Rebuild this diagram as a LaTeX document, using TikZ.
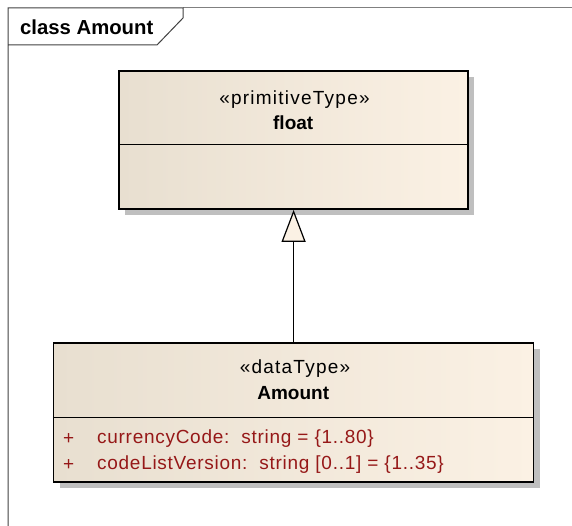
\documentclass[tikz,border=0pt]{standalone}
\usepackage{fontspec}
\setmainfont{Liberation Sans}
\usetikzlibrary{arrows.meta,shadows}
\definecolor{boxleft}{RGB}{232,223,208}
\definecolor{boxright}{RGB}{251,241,228}
\definecolor{cream}{RGB}{251,241,228}
\definecolor{attrred}{RGB}{150,24,24}
\definecolor{framegray}{RGB}{128,128,128}
\tikzset{
  classbox/.style={draw=black, line width=1.4pt, left color=boxleft, right color=boxright,
    drop shadow={shadow xshift=6pt, shadow yshift=-6pt, fill=black!25, opacity=1},
    inner sep=0pt},
  divider/.style={draw=black, line width=1pt},
  stereo/.style={font=\fontsize{19}{22}\selectfont\addfontfeature{LetterSpace=6.5}, inner sep=0pt},
  cname/.style={font=\fontsize{19}{22}\selectfont\bfseries, inner sep=0pt},
  attr/.style={font=\fontsize{19}{22}\selectfont\addfontfeature{LetterSpace=3.8}, text=attrred, inner sep=0pt, anchor=west},
  framelinegray/.style={draw=framegray, line width=1pt},
  framelinedark/.style={draw=black!75, line width=1pt},
  inherit/.style={draw=black, line width=1.2pt,
    -{Triangle[open, length=32pt, width=24pt, fill=cream, line width=1.2pt]}}
}
\begin{document}
\begin{tikzpicture}[x=1pt, y=-1pt]
\useasboundingbox (0,0) rectangle (572,526);
% frame
\coordinate (ftl) at (8,8);
\coordinate (ftr) at (572,8);
\coordinate (fbl) at (8,526);
\draw[framelinegray] (183,8) -- (ftr);
\draw[framelinedark] (fbl) -- (ftl) -- (183,8) -- (183,18) -- (157,45) -- (8,45);
\node[font=\fontsize{20.3}{22}\selectfont\bfseries, anchor=west, inner sep=0pt] (ftitle) at (20,27) {class Amount};
% float box
\node[classbox, minimum width=349pt, minimum height=138pt] (floatbox) at (293.6,140.2) {};
\draw[divider] (floatbox.west |- 0,145) -- (floatbox.east |- 0,145);
\node[stereo] (fst) at (294.5,100) {«primitiveType»};
\node[cname] (fname) at (293.2,123) {float};
% amount box
\node[classbox, minimum width=480pt, minimum height=139pt] (amount) at (293.6,412.5) {};
\draw[divider] (amount.west |- 0,417) -- (amount.east |- 0,417);
\node[stereo] (ast) at (295,369) {«dataType»};
\node[cname] (aname) at (293.2,393) {Amount};
\node[attr] (p1) at (63,439) {+};
\node[attr] (a1) at (97,439) {currencyCode:\ \ string = \{1..80\}};
\node[attr] (p2) at (63,465) {+};
\node[attr] (a2) at (97,465) {codeListVersion:\ \ string [0..1] = \{1..35\}};
% generalization
\draw[inherit] (amount.north) -- (floatbox.south);
\end{tikzpicture}
\end{document}
